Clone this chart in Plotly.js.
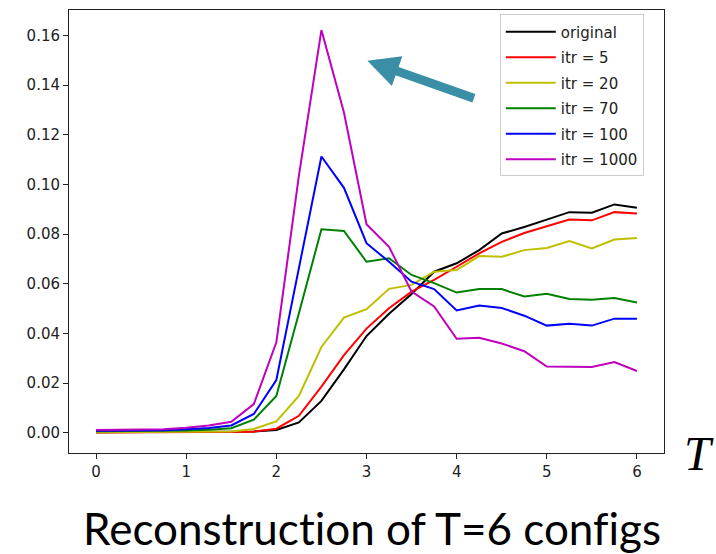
<!DOCTYPE html>
<html>
<head>
<meta charset="utf-8">
<script src="https://cdn.plot.ly/plotly-3.0.1.min.js"></script>
<style>html,body{margin:0;padding:0;background:#fff;}#chart{width:716px;height:554px;}
text{font-variant-ligatures:none;font-feature-settings:"liga" 0;}</style>
</head>
<body>
<div id="chart"></div>
<script>
const temps = [0, 0.25, 0.5, 0.75, 1, 1.25, 1.5, 1.75, 2, 2.25, 2.5, 2.75, 3, 3.25, 3.5, 3.75, 4, 4.25, 4.5, 4.75, 5, 5.25, 5.5, 5.75, 6];
const original = [0.0003,0.0003,0.0003,0.0003,0.0003,0.0003,0.0004,0.0006,0.0012,0.0042,0.0129,0.0256,0.0390,0.0480,0.0559,0.0649,0.0683,0.0736,0.0803,0.0829,0.0859,0.0889,0.0887,0.0920,0.0907];
const itr5 = [0.0002,0.0002,0.0002,0.0002,0.0002,0.0002,0.0003,0.0005,0.0017,0.0069,0.0186,0.0313,0.0420,0.0502,0.0569,0.0616,0.0669,0.0723,0.0769,0.0805,0.0832,0.0859,0.0856,0.0889,0.0883];
const itr20 = [0.0003,0.0003,0.0003,0.0003,0.0004,0.0004,0.0006,0.0016,0.0046,0.0149,0.0346,0.0464,0.0498,0.0580,0.0596,0.0649,0.0656,0.0712,0.0709,0.0736,0.0745,0.0773,0.0743,0.0779,0.0785];
const itr70 = [0.0007,0.0007,0.0007,0.0008,0.0010,0.0013,0.0019,0.0053,0.0149,0.0482,0.0820,0.0813,0.0689,0.0703,0.0636,0.0603,0.0565,0.0579,0.0579,0.0549,0.0560,0.0539,0.0536,0.0543,0.0525];
const itr100 = [0.0009,0.0009,0.0009,0.0011,0.0015,0.0020,0.0030,0.0076,0.0213,0.0660,0.1113,0.0987,0.0764,0.0689,0.0609,0.0579,0.0493,0.0513,0.0503,0.0472,0.0432,0.0440,0.0432,0.0460,0.0460];
const itr1000 = [0.0012,0.0012,0.0012,0.0015,0.0021,0.0030,0.0045,0.0116,0.0365,0.1036,0.1622,0.1290,0.0840,0.0749,0.0569,0.0509,0.0379,0.0383,0.0360,0.0329,0.0267,0.0267,0.0265,0.0285,0.0249];

const seriesNames = ['original', 'itr = 5', 'itr = 20', 'itr = 70', 'itr = 100', 'itr = 1000'];
const seriesValues = [original, itr5, itr20, itr70, itr100, itr1000];
const seriesColors = ['#000000', '#ff0000', '#bfbf00', '#008000', '#0000ff', '#bf00bf'];

const traces = seriesNames.map((n, i) => ({
  type: 'scatter', mode: 'lines', x: temps, y: seriesValues[i], name: n,
  legendgroup: 'g' + i,
  line: {color: seriesColors[i], width: 2}
}));

const tickFont = {family: 'DejaVu Sans', size: 15, color: '#222'};
const layout = {
  width: 716, height: 554,
  margin: {l: 69, r: 52, t: 10, b: 101},
  paper_bgcolor: '#fff', plot_bgcolor: '#fff',
  showlegend: true,
  legend: {x: 0.724, y: 0.99, xanchor: 'left', yanchor: 'top',
    font: {family: 'DejaVu Sans', size: 15, color: '#222'},
    bgcolor: '#fff', bordercolor: '#cccccc', borderwidth: 1,
    traceorder: 'grouped', tracegroupgap: 3, itemwidth: 50},
  xaxis: {range: [-0.3, 6.3], tick0: 0, dtick: 1, showgrid: false, zeroline: false,
    showline: true, mirror: true, linecolor: '#222', linewidth: 1,
    ticks: 'outside', ticklen: 5, tickcolor: '#222', tickfont: tickFont},
  yaxis: {range: [-0.0081, 0.1703], tick0: 0, dtick: 0.02, tickformat: '.2f', showgrid: false, zeroline: false,
    showline: true, mirror: true, linecolor: '#222', linewidth: 1,
    ticks: 'outside', ticklen: 5, tickcolor: '#222', tickfont: tickFont},
  title: {text: 'Reconstruction of T=6 configs', x: 372/716, xanchor: 'center', xref: 'container',
    y: 1 - 530/554, yanchor: 'middle', yref: 'container',
    font: {family: 'Lato', size: 44, color: '#000'}},
  annotations: [
    {xref: 'x', yref: 'y', x: 3.01, y: 0.1499, ax: 108, ay: 38, axref: 'pixel', ayref: 'pixel',
     text: '', showarrow: true, arrowhead: 2, arrowsize: 0.7, arrowwidth: 9, arrowcolor: '#3a8fa7', standoff: 0},
    {xref: 'paper', yref: 'paper', x: (699 - 69) / 595, y: 0, xanchor: 'center', yanchor: 'middle',
     text: '<i>T</i>', showarrow: false, font: {family: 'Liberation Serif', size: 48, color: '#000'}}
  ]
};

Plotly.newPlot('chart', traces, layout, {displayModeBar: false, staticPlot: true});
</script>
</body>
</html>
